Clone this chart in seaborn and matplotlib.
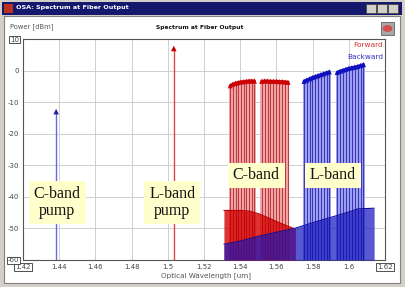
import matplotlib
matplotlib.use("Agg")
import matplotlib.pyplot as plt
import matplotlib.patches as mpatches
import seaborn as sns
import pandas as pd
import numpy as np

# ---------------- data ----------------
pump_c_wl = [1.4383]
pump_c_p = [-13.0]
pump_l_wl = [1.5033]
pump_l_p = [7.0]

fwd_wl = [1.5345, 1.5360, 1.5375, 1.5389, 1.5404, 1.5419, 1.5434, 1.5449, 1.5463, 1.5478,
          1.5519, 1.5535, 1.5551, 1.5567, 1.5583, 1.5600, 1.5616, 1.5632, 1.5648, 1.5664]
fwd_p = [-4.8, -4.3, -4.0, -3.8, -3.6, -3.5, -3.4, -3.3, -3.3, -3.3,
         -3.4, -3.3, -3.3, -3.4, -3.4, -3.4, -3.5, -3.5, -3.6, -3.7]
fwd_group = ["a"] * 10 + ["b"] * 10

bwd_wl = [1.5753, 1.5768, 1.5784, 1.5799, 1.5815, 1.5830, 1.5846, 1.5861, 1.5877, 1.5892,
          1.5936, 1.5952, 1.5968, 1.5984, 1.6000, 1.6017, 1.6033, 1.6049, 1.6065, 1.6081]
bwd_p = [-3.4, -3.0, -2.6, -2.2, -1.9, -1.6, -1.3, -1.0, -0.7, -0.4,
         -0.6, -0.2, 0.1, 0.4, 0.7, 0.9, 1.1, 1.3, 1.6, 1.9]
bwd_group = ["a"] * 10 + ["b"] * 10

ase_fwd_wl = [1.531, 1.535, 1.540, 1.545, 1.550, 1.555, 1.560, 1.565, 1.5705]
ase_fwd_p = [-44.3, -44.3, -44.3, -44.5, -45.3, -46.5, -47.8, -49.0, -50.2]
ase_bwd_wl = [1.531, 1.540, 1.550, 1.560, 1.570, 1.580, 1.590, 1.600, 1.605, 1.614]
ase_bwd_p = [-55.0, -54.0, -52.5, -51.2, -50.0, -48.2, -46.5, -44.8, -43.8, -43.6]

x_ticks = [1.42, 1.44, 1.46, 1.48, 1.50, 1.52, 1.54, 1.56, 1.58, 1.60, 1.62]
x_tick_labels = ["1.42", "1.44", "1.46", "1.48", "1.5", "1.52", "1.54", "1.56", "1.58", "1.6", "1.62"]
y_ticks = [10, 0, -10, -20, -30, -40, -50, -60]
y_tick_labels = ["10", "0", "-10", "-20", "-30", "-40", "-50", "-60"]

labels = ["C-band\npump", "L-band\npump", "C-band", "L-band"]
label_x = [1.4389, 1.5025, 1.5489, 1.5911]
label_y = [-41.8, -41.8, -33.2, -33.2]

# ---------------- style ----------------
sns.set_theme(style="whitegrid")
plt.rcParams["font.family"] = ["DejaVu Sans"]

W, H = 405, 287
fig = plt.figure(figsize=(W / 100, H / 100), dpi=100)
fig.patch.set_facecolor("#d4d0c8")

def fx(px):
    return px / W

def fy(py):
    return 1 - py / H

# window chrome
fig.patches.append(mpatches.Rectangle((fx(4), fy(283)), fx(396), 267 / H,
                                      transform=fig.transFigure, facecolor="white",
                                      edgecolor="#808080", linewidth=0.8, zorder=-5))
fig.patches.append(mpatches.Rectangle((fx(2), fy(15)), fx(400), 13 / H,
                                      transform=fig.transFigure, facecolor="#14196e",
                                      edgecolor="none", zorder=-4))
fig.patches.append(mpatches.Rectangle((fx(4), fy(13)), fx(9), 9 / H,
                                      transform=fig.transFigure, facecolor="#c03020",
                                      edgecolor="none", zorder=-3))
for bx in (366, 377, 388):
    fig.patches.append(mpatches.Rectangle((fx(bx), fy(13)), fx(10), 9 / H,
                                          transform=fig.transFigure, facecolor="#d4d0c8",
                                          edgecolor="#404040", linewidth=0.5, zorder=-3))
fig.patches.append(mpatches.Rectangle((fx(381), fy(35)), fx(13), 13 / H,
                                      transform=fig.transFigure, facecolor="#a8a8a8",
                                      edgecolor="#606060", linewidth=0.6, zorder=-3))
fig.patches.append(mpatches.Circle((fx(387.5), fy(28.5)), 0.012,
                                   transform=fig.transFigure, facecolor="#d05050",
                                   edgecolor="none", zorder=-2))
fig.text(fx(16), fy(8), "OSA: Spectrum at Fiber Output", color="white",
         fontsize=4.6, fontweight="bold", va="center", ha="left")
fig.text(fx(10), fy(27), "Power [dBm]", color="#555555", fontsize=4.9, va="center", ha="left")
fig.text(fx(200), fy(27), "Spectrum at Fiber Output", color="#111111", fontsize=4.3,
         fontweight="bold", va="center", ha="center")

ax = fig.add_axes([fx(23), fy(260), fx(385 - 23), (260 - 39) / H])
ax.set_zorder(5)
ax.set_facecolor("white")
ax.set_xlim(1.42, 1.62)
ax.set_ylim(-60, 10)

# grid
ax.grid(True, color="#cfcfcf", linewidth=0.7)
ax.set_axisbelow(True)
for sp in ax.spines.values():
    sp.set_color("#555555")
    sp.set_linewidth(0.8)

fwd = pd.DataFrame({"wl": fwd_wl, "p": fwd_p, "grp": fwd_group})
bwd = pd.DataFrame({"wl": bwd_wl, "p": bwd_p, "grp": bwd_group})

# channels (light bars, touching) + darker stripes
ax.bar(fwd["wl"], fwd["p"] + 60, bottom=-60, width=0.00158,
       color=(0.95, 0.66, 0.66), edgecolor="none", linewidth=0, zorder=3)
ax.bar(bwd["wl"], bwd["p"] + 60, bottom=-60, width=0.00158,
       color=(0.64, 0.64, 0.95), edgecolor="none", linewidth=0, zorder=3)
ax.vlines(fwd["wl"], -60, fwd["p"], color=(0.85, 0.3, 0.3), linewidth=0.8, zorder=3.5)
ax.vlines(bwd["wl"], -60, bwd["p"], color=(0.3, 0.3, 0.85), linewidth=0.8, zorder=3.5)

# ASE floors
ax.fill_between(ase_fwd_wl, -60, ase_fwd_p, color="#d80000", alpha=0.8, linewidth=0, zorder=4)
ax.fill_between(ase_bwd_wl, -60, ase_bwd_p, color="#1818c0", alpha=0.72, linewidth=0, zorder=5)
sns.lineplot(x=ase_fwd_wl, y=ase_fwd_p, ax=ax, color="#c00000", linewidth=0.8, zorder=5)
sns.lineplot(x=ase_bwd_wl, y=ase_bwd_p, ax=ax, color="#1010a0", linewidth=0.8, zorder=6)

# channel stripes visible through the ASE
ax.vlines(fwd["wl"], -60, fwd["p"], color=(0.45, 0.0, 0.1, 0.3), linewidth=0.6, zorder=6)
ax.vlines(bwd["wl"], -60, bwd["p"], color=(0.0, 0.0, 0.35, 0.3), linewidth=0.6, zorder=6)

# channel peaks
sns.lineplot(data=fwd, x="wl", y="p", units="grp", estimator=None, ax=ax,
             color="#cc0000", linewidth=2.2, zorder=7)
sns.lineplot(data=bwd, x="wl", y="p", units="grp", estimator=None, ax=ax,
             color="#1010c0", linewidth=2.2, zorder=7)
sns.scatterplot(data=fwd, x="wl", y="p", ax=ax, marker="^", s=14, color="#cc0000",
                edgecolor="none", zorder=8)
sns.scatterplot(data=bwd, x="wl", y="p", ax=ax, marker="^", s=14, color="#1010c0",
                edgecolor="none", zorder=8)

# pumps
ax.vlines(pump_c_wl, -60, pump_c_p, color="#6868d8", linewidth=1.0, zorder=5)
ax.vlines(pump_l_wl, -60, pump_l_p, color="#e04848", linewidth=1.0, zorder=5)
sns.scatterplot(x=pump_c_wl, y=pump_c_p, ax=ax, marker="^", s=16, color="#2020a0",
                edgecolor="none", zorder=8)
sns.scatterplot(x=pump_l_wl, y=pump_l_p, ax=ax, marker="^", s=16, color="#c00000",
                edgecolor="none", zorder=8)

# ticks
ax.set_xticks(x_ticks)
ax.set_xticklabels(x_tick_labels)
ax.set_yticks(y_ticks)
ax.set_yticklabels(y_tick_labels)
ax.tick_params(axis="both", labelsize=5, colors="#444444", length=0, pad=3)
for lab in (ax.get_xticklabels()[0], ax.get_xticklabels()[-1],
            ax.get_yticklabels()[0], ax.get_yticklabels()[-1]):
    lab.set_bbox(dict(facecolor="white", edgecolor="#333333", linewidth=0.6, pad=0.6))
ax.set_xlabel("")
ax.set_ylabel("")
fig.text(fx(206), fy(276), "Optical Wavelength [um]", color="#555555", fontsize=5.2,
         ha="center", va="center")

# legend text
ax.text(0.995, 0.985, "Forward", transform=ax.transAxes, ha="right", va="top",
        color="#d03030", fontsize=5.3, zorder=9)
ax.text(0.995, 0.93, "Backward", transform=ax.transAxes, ha="right", va="top",
        color="#3030c0", fontsize=5.3, zorder=9)

# annotation boxes
for t, x, y in zip(labels, label_x, label_y):
    ax.text(x, y, t, ha="center", va="center", fontsize=11.5,
            family=["Liberation Serif", "DejaVu Serif"], color="#111111", linespacing=1.05,
            bbox=dict(facecolor="#ffffcc", edgecolor="none", pad=3.5), zorder=10)

fig.savefig("out.png", dpi=100, facecolor=fig.get_facecolor())
